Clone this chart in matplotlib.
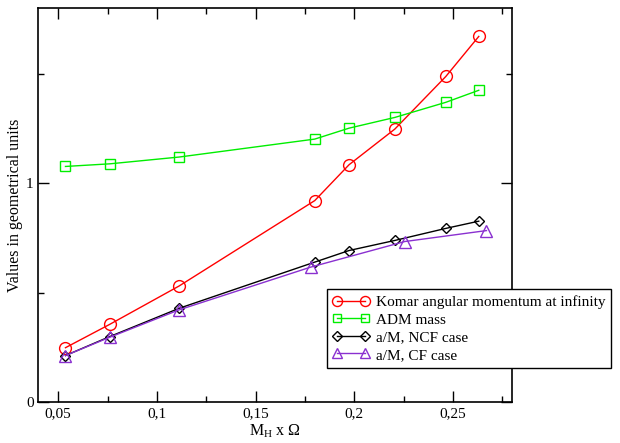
import matplotlib
matplotlib.use("Agg")
import matplotlib.pyplot as plt
from matplotlib.ticker import MultipleLocator, FuncFormatter

plt.rcParams['font.family'] = ['Liberation Serif', 'DejaVu Serif']
plt.rcParams['mathtext.default'] = 'regular'

# Komar angular momentum at infinity
x_komar = [0.0537, 0.0762, 0.1113, 0.1800, 0.1974, 0.2206, 0.2464, 0.2631]
y_komar = [0.248, 0.355, 0.530, 0.920, 1.084, 1.247, 1.487, 1.670]

# ADM mass
x_adm = [0.0537, 0.0762, 0.1113, 0.1800, 0.1974, 0.2206, 0.2464, 0.2631]
y_adm = [1.076, 1.088, 1.119, 1.201, 1.251, 1.300, 1.369, 1.424]

# a/M, NCF case
x_ncf = [0.0537, 0.0762, 0.1113, 0.1800, 0.1974, 0.2206, 0.2464, 0.2631]
y_ncf = [0.212, 0.299, 0.428, 0.639, 0.692, 0.738, 0.793, 0.826]

# a/M, CF case
x_cf = [0.0537, 0.0762, 0.1113, 0.1779, 0.2256, 0.2670]
y_cf = [0.212, 0.296, 0.421, 0.616, 0.733, 0.783]

fig = plt.figure(figsize=(6.2, 4.43), dpi=100)
ax = fig.add_axes([0.062, 0.0926, 0.764, 0.8894])

lw = 1.0
ax.plot(x_komar, y_komar, color='red', lw=lw, marker='o', ms=8.5, mfc='none',
        mec='red', mew=lw, label='Komar angular momentum at infinity')
ax.plot(x_adm, y_adm, color='#00ee00', lw=lw, marker='s', ms=6.5, mfc='none',
        mec='#00ee00', mew=lw, label='ADM mass')
ax.plot(x_ncf, y_ncf, color='black', lw=lw, marker='D', ms=5.5, mfc='none',
        mec='black', mew=lw, label='a/M, NCF case')
ax.plot(x_cf, y_cf, color='#8a30d0', lw=lw, marker='^', ms=8, mfc='none',
        mec='#8a30d0', mew=lw, label='a/M, CF case')

ax.set_xlim(0.04, 0.28)
ax.set_ylim(0, 1.8)
ax.xaxis.set_major_locator(MultipleLocator(0.05))
ax.xaxis.set_minor_locator(MultipleLocator(0.025))
ax.yaxis.set_major_locator(MultipleLocator(1))
ax.yaxis.set_minor_locator(MultipleLocator(0.5))
ax.xaxis.set_major_formatter(FuncFormatter(lambda v, p: ('%g' % round(v, 3)).replace('.', ',')))
ax.yaxis.set_major_formatter(FuncFormatter(lambda v, p: '%g' % v))
ax.tick_params(which='both', direction='in', top=True, right=True, labelsize=11, width=1)
ax.tick_params(which='major', length=8)
ax.tick_params(which='minor', length=4)
for s in ax.spines.values():
    s.set_linewidth(1.2)

ax.set_xlabel('M$_{H}$ x Ω', fontsize=11.5, labelpad=2)
ax.set_ylabel('Values in geometrical units', fontsize=11.5, labelpad=2)

leg = fig.legend(loc='upper left', bbox_to_anchor=(0.527, 0.347), borderaxespad=0,
                 numpoints=2, fontsize=11, fancybox=False, framealpha=1,
                 edgecolor='black', handlelength=2.4, handletextpad=0.4,
                 labelspacing=0.25, borderpad=0.4, markerscale=0.85)
leg.get_frame().set_linewidth(1.0)

fig.savefig('out.png', dpi=100)
